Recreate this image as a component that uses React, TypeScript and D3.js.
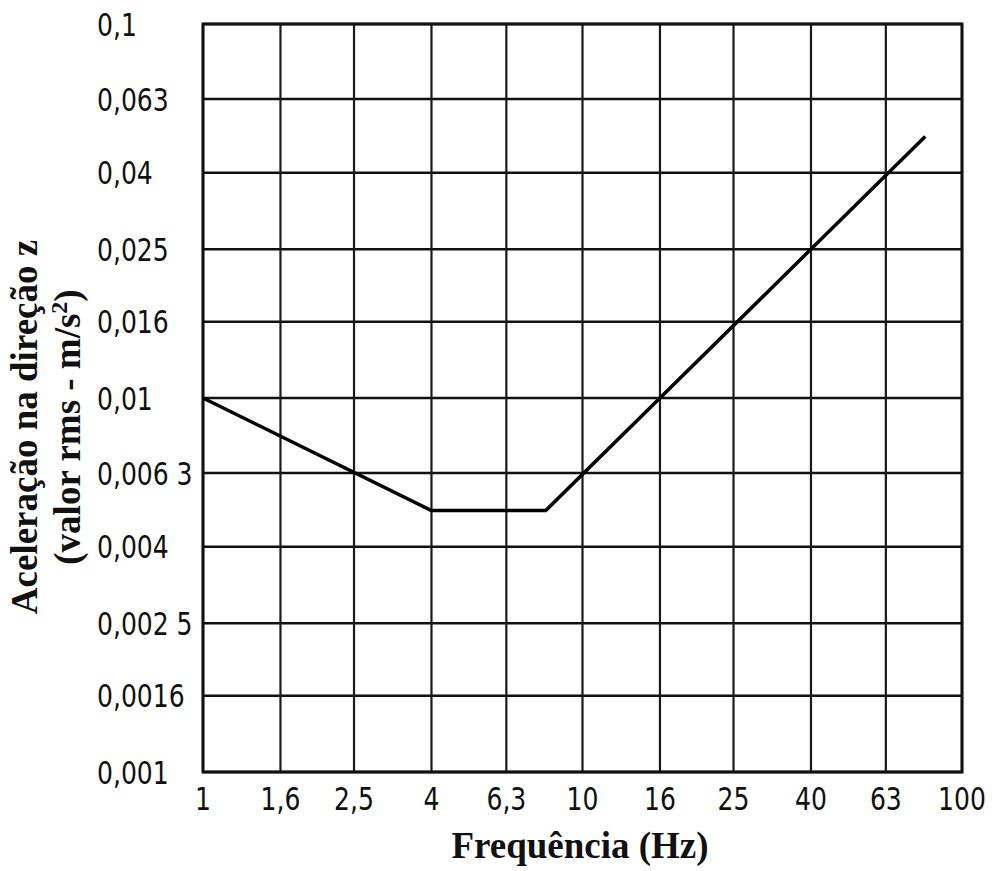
import React from "react";
import * as d3 from "d3";

// frequency grid / ticks (Hz)
const xTicks = [1, 1.6, 2.5, 4, 6.3, 10, 16, 25, 40, 63, 100];
const xTickLabels = ["1", "1,6", "2,5", "4", "6,3", "10", "16", "25", "40", "63", "100"];

// acceleration grid / ticks (m/s² rms)
const yTicks = [0.001, 0.0016, 0.0025, 0.004, 0.0063, 0.01, 0.016, 0.025, 0.04, 0.063, 0.1];
const yTickLabels = ["0,001", "0,0016", "0,002 5", "0,004", "0,006 3", "0,01", "0,016", "0,025", "0,04", "0,063", "0,1"];

// limit curve
const freq = [1, 4, 8, 80];
const accel = [0.01, 0.005, 0.005, 0.05];

const W = 994;
const H = 871;
const tickFont = "'DejaVu Sans Condensed', 'DejaVu Sans', sans-serif";
const titleFont = "'Liberation Serif', 'DejaVu Serif', serif";
const squeeze = 0.87; // tick digits are tall and narrow

export default function App() {
  const x = d3.scaleLog().domain([1, 100]).range([203, 962]);
  const y = d3.scaleLog().domain([0.001, 0.1]).range([772, 24]);

  const line = d3
    .line<number>()
    .x((d, i) => x(freq[i]))
    .y(d => y(d));

  return (
    <svg
      width={W}
      height={H}
      style={{ position: "absolute", left: 0, top: 0, background: "#fff" }}
    >
      {/* horizontal grid */}
      {yTicks.map(t => (
        <line
          key={"h" + t}
          x1={x(1)}
          x2={x(100)}
          y1={y(t)}
          y2={y(t)}
          stroke="#111"
          strokeWidth={2.5}
        />
      ))}
      {/* vertical grid */}
      {xTicks.map(t => (
        <line
          key={"v" + t}
          x1={x(t)}
          x2={x(t)}
          y1={y(0.1)}
          y2={y(0.001)}
          stroke="#1a1a1a"
          strokeWidth={2.2}
        />
      ))}
      <rect
        x={x(1)}
        y={y(0.1)}
        width={x(100) - x(1)}
        height={y(0.001) - y(0.1)}
        fill="none"
        stroke="#111"
        strokeWidth={3}
      />

      <path d={line(accel) || ""} fill="none" stroke="#000" strokeWidth={3.5} strokeLinejoin="round" />

      {/* y tick labels */}
      {yTicks.map((t, i) => (
        <text
          key={"yl" + t}
          transform={`translate(97,${y(t)}) scale(${squeeze},1)`}
          dy="0.36em"
          fontFamily={tickFont}
          fontSize={32}
          fill="#111"
        >
          {yTickLabels[i]}
        </text>
      ))}
      {/* x tick labels */}
      {xTicks.map((t, i) => (
        <text
          key={"xl" + t}
          transform={`translate(${x(t)},810) scale(${squeeze},1)`}
          textAnchor="middle"
          fontFamily={tickFont}
          fontSize={32}
          fill="#111"
        >
          {xTickLabels[i]}
        </text>
      ))}

      <text
        x={580}
        y={858}
        textAnchor="middle"
        fontFamily={titleFont}
        fontWeight="bold"
        fontSize={37}
        fill="#111"
      >
        Frequência (Hz)
      </text>
      <g transform="translate(37,427) rotate(-90)">
        <text textAnchor="middle" fontFamily={titleFont} fontWeight="bold" fontSize={37} fill="#111">
          Aceleração na direção z
        </text>
        <text y={43} textAnchor="middle" fontFamily={titleFont} fontWeight="bold" fontSize={37} fill="#111">
          (valor rms - m/s<tspan dy={-13} fontSize={24}>2</tspan><tspan dy={13}>)</tspan>
        </text>
      </g>
    </svg>
  );
}
